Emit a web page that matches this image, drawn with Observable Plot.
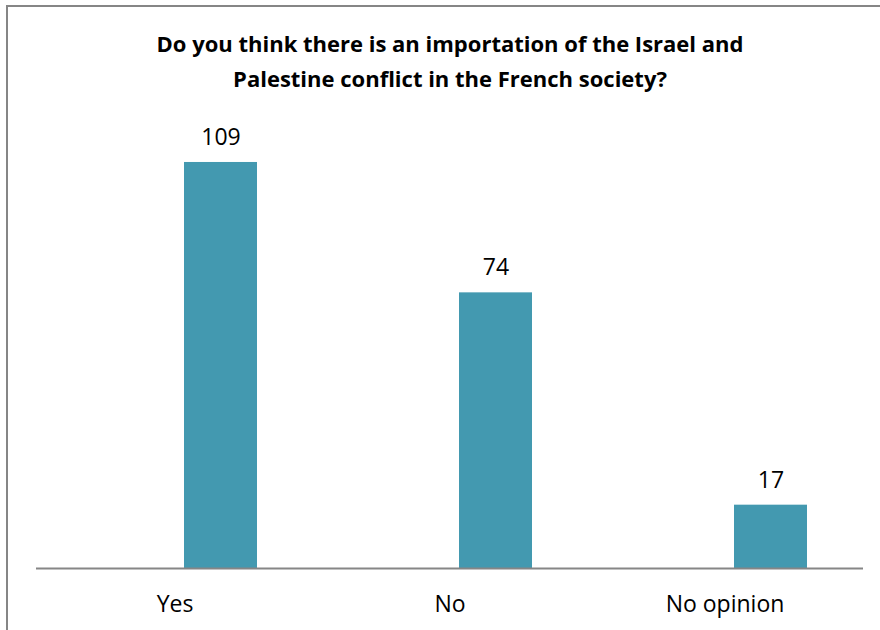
<!DOCTYPE html>
<html>
<head>
<meta charset="utf-8">
<script src="https://cdn.jsdelivr.net/npm/d3@7"></script>
<script src="https://cdn.jsdelivr.net/npm/@observablehq/plot@0.6"></script>
<style>
  html, body { margin: 0; padding: 0; background: #fff; }
  #wrap { position: relative; width: 880px; height: 630px; overflow: hidden; font-family: "Open Sans", sans-serif; }
  #frame { position: absolute; left: 6px; top: 5px; width: 900px; height: 700px; border-left: 2px solid #868686; border-top: 2px solid #868686; box-sizing: border-box; }
  #title { position: absolute; left: 0; width: 900px; top: 26px; text-align: center; font-weight: 700; font-size: 22px; line-height: 35px; color: #000; }
  #chart { position: absolute; left: 0; top: 0; }
</style>
</head>
<body>
<div id="wrap">
  <div id="frame"></div>
  <div id="chart"></div>
  <div id="title">Do you think there is an importation of the Israel and<br>Palestine conflict in the French society?</div>
</div>
<script>
const categories = ["Yes", "No", "No opinion"];
const counts = [109, 74, 17];
const data = categories.map((c, i) => ({category: c, count: counts[i]}));

const chart = Plot.plot({
  width: 880,
  height: 630,
  marginLeft: 36,
  marginRight: 17,
  marginTop: 121,
  marginBottom: 62,
  style: {fontFamily: "'Open Sans', sans-serif", background: "transparent", overflow: "visible"},
  x: {domain: categories, paddingInner: 0.735, paddingOuter: 0.3675, label: null},
  y: {domain: [0, 120], axis: null},
  marks: [
    Plot.barY(data, {x: "category", y: "count", fill: "#4399B0", dx: 46}),
    Plot.ruleY([0], {stroke: "#868686", strokeWidth: 2}),
    Plot.text(data, {x: "category", y: "count", text: d => String(d.count), dx: 46, dy: -25, fontSize: 23, fill: "#000"}),
    Plot.axisX({tickSize: 0, tickPadding: 27, fontSize: 23, label: null, fill: "#000"})
  ]
});
document.getElementById("chart").appendChild(chart);
</script>
</body>
</html>
